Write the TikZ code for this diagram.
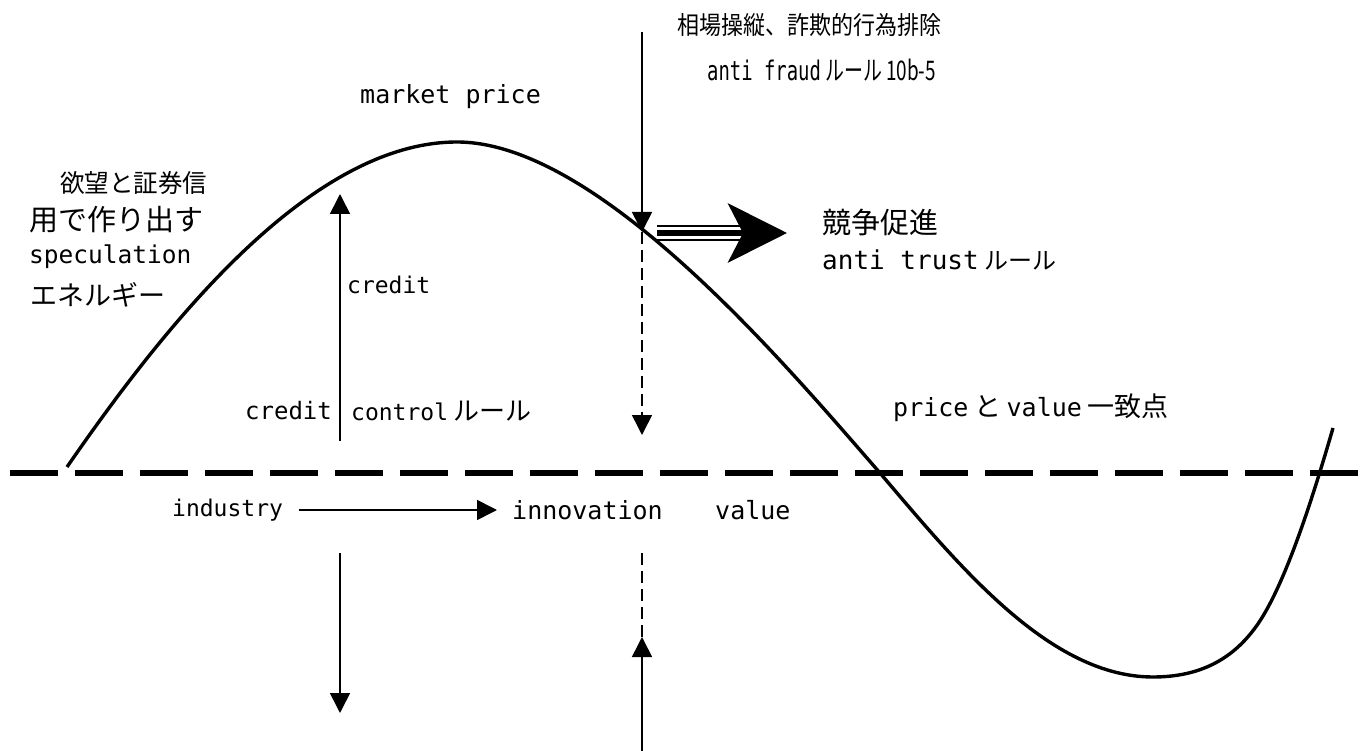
\documentclass[tikz,border=0pt]{standalone}
\usepackage{fontspec}
\setmainfont{Noto Sans CJK JP}
\newfontfamily\latfont{DejaVu Sans Mono}
\newcommand{\lat}[1]{{\latfont #1}}
\usetikzlibrary{arrows.meta,positioning}

\tikzset{
  txt/.style={inner sep=0pt, anchor=west},
  fs/.style={font=\fontsize{#1}{#1}\selectfont},
  thinarrow/.style={line width=1.6pt, -{Triangle[length=20pt,width=20pt]}},
  guide/.style={line width=1.6pt, dash pattern=on 12pt off 6pt},
}

\begin{document}
\begin{tikzpicture}[x=1pt,y=-1pt]
  \useasboundingbox (0,0) rectangle (1366,751);

  % price = value line
  \draw[line width=5.3pt, dash pattern=on 48pt off 17pt] (10,473) -- (1366,473);

  % market price curve
  \draw[line width=3.4pt] (67,467) .. controls (165,325) and (310,142) .. (457,142)
     .. controls (600,142) and (790,370) .. (880,473)
     .. controls (960,567) and (1050,677) .. (1153,677)
     .. controls (1205,677) and (1235,655) .. (1255,628)
     .. controls (1285,588) and (1315,490) .. (1333,428);

  % texts
  \node[txt, fs=25] (fraudjp) at (677,25) {\scalebox{0.88}[1]{相場操縦、詐欺的行為排除}};
  \node[txt, fs=27] (fraud) at (707,70) {\scalebox{0.7}[1]{\lat{anti fraud} ルール 10b-5}};
  \node[txt, fs=25] (mprice) at (360,97) {\lat{market price}};

  \node[txt, fs=25] (want1) at (60,183) {\scalebox{0.98}[1]{欲望と証券信}};
  \node[txt, fs=29] (want2) at (29,220) {用で作り出す};
  \node[txt, fs=24.5] (want3) at (29,257) {\lat{speculation}};
  \node[txt, fs=27] (want4) at (30,295) {エネルギー};

  \node[txt, fs=23] (credit) at (347,285) {\lat{credit}};
  \node[txt, fs=24] (ccredit) at (245,411) {\lat{credit}};
  \node[txt, fs=23] (ccontrol) at (351,411) {\lat{control} {\fontsize{26}{26}\selectfont ルール}};

  \node[txt, fs=29] (compete) at (822,222) {競争促進};
  \node[txt, fs=26] (trust) at (822,260) {\lat{anti trust} {\fontsize{24}{24}\selectfont ルール}};
  \node[txt, fs=25] (match) at (893,408)
    {\lat{price} {\fontsize{27}{27}\selectfont と} \lat{value} {\fontsize{27}{27}\selectfont 一致点}};

  \node[txt, fs=23] (industry) at (172,510) {\lat{industry}};
  \node[txt, fs=25] (innov) at (512,510) {\lat{innovation}};
  \node[txt, fs=25] (value) at (715,510) {\lat{value}};

  % credit arrows
  \coordinate (cbot) at (340,441);
  \coordinate (ctop) at (340,194);
  \coordinate (dtop) at (340,553);
  \coordinate (dbot) at (340,713);
  \draw[thinarrow] (cbot) -- (ctop);
  \draw[thinarrow] (dtop) -- (dbot);

  % rule line
  \coordinate (rtop) at (642,32);
  \coordinate (rhit) at (642,232);
  \coordinate (rmid) at (642,435);
  \coordinate (rlow) at (642,553);
  \coordinate (rup) at (642,637);
  \coordinate (rbot) at (642,751);
  \draw[thinarrow] (rtop) -- (rhit);
  \draw[thinarrow, guide] (rhit) -- (rmid);
  \draw[guide] (rlow) -- (rup);
  \draw[thinarrow] (rbot) -- (rup);

  \draw[thinarrow, shorten <=16pt, shorten >=15pt] (industry) -- (innov);

  % push to competition
  \coordinate (push) at (657,233);
  \coordinate (pushhead) at (787,233);
  \draw[line width=2.3pt] ([yshift=7pt]push) -- ([yshift=7pt, xshift=-44pt]pushhead);
  \draw[line width=2.3pt] ([yshift=-7pt]push) -- ([yshift=-7pt, xshift=-44pt]pushhead);
  \draw[line width=6pt, -{Stealth[length=59pt, width=59pt, inset=15pt]}] (push) -- (pushhead);
\end{tikzpicture}
\end{document}
